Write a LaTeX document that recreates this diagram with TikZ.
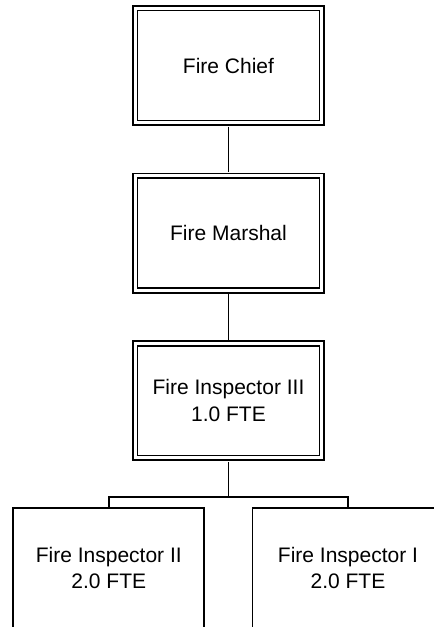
\documentclass[tikz,border=0pt]{standalone}
\usepackage{fontspec}
\setmainfont{Liberation Sans}

\tikzset{
  headbox/.style={draw, double, double distance=3pt, line width=1.7pt,
    minimum width=186.7pt, minimum height=114.5pt, inner sep=0pt, align=center},
  staffbox/.style={draw, line width=1.8pt,
    minimum width=191pt, minimum height=119.5pt, inner sep=0pt, align=center},
  link/.style={line width=1.8pt, shorten <=3pt, shorten >=3pt}
}

\begin{document}
\begin{tikzpicture}[x=1pt,y=-1pt,font=\fontsize{21}{26.5}\selectfont]
  \path[use as bounding box] (0,0) rectangle (434,627);
  \clip (0,0) rectangle (434,627);
  % chain of command
  \node[headbox] (chief) at (228.5,65.5) {Fire Chief};
  \node[headbox] (marshal) at (228.5,233.1) {Fire Marshal};
  \node[headbox] (insp3) at (228.5,400.7) {Fire Inspector III\\1.0 FTE};
  % staff
  \node[staffbox] (insp2) at (108.8,568.1) {Fire Inspector II\\2.0 FTE};
  \node[staffbox] (insp1) at (348,568.1) {Fire Inspector I\\2.0 FTE};
  \coordinate (bus) at (228.5,497.3);
  \draw[link](chief.south)--(marshal.north);
  \draw[link](marshal.south)--(insp3.north);
  \draw[link,shorten >=0pt](insp3.south)--(bus);
  \draw[line width=1.8pt](insp2.north)|-(bus)-|(insp1.north);
\end{tikzpicture}
\end{document}
